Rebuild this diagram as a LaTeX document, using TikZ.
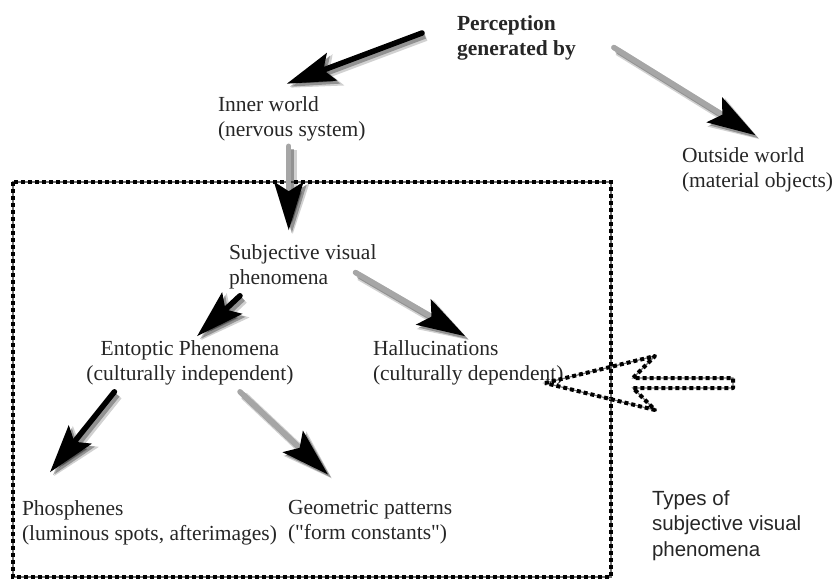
\documentclass[tikz,border=0pt]{standalone}
\usepackage{fontspec}
\setmainfont{Liberation Serif}
\setsansfont{Liberation Sans}
\usetikzlibrary{arrows.meta, calc}
\tikzset{
  lbl/.style = {
    anchor=west, align=left,
    inner sep=0pt, outer sep=0pt,
    font=\fontsize{21.5}{25}\selectfont, text=black!85
  },
  shd/.style = {
    preaction={draw=black, opacity=0.18, line width=8pt,
      transform canvas={shift={(4pt,-4pt)}},
      -{Stealth[length=50pt,width=32pt,inset=9pt]}},
    preaction={draw=black, opacity=0.3, line width=5.5pt,
      transform canvas={shift={(3pt,-3pt)}},
      -{Stealth[length=48pt,width=29pt,inset=9pt]}}
  },
  dk/.style   = {shd, -{Stealth[length=48pt,width=29pt,inset=9pt]},
                  black, line width=5.5pt, line cap=round},
  grad/.style = {shd, -{Stealth[length=48pt,width=29pt,inset=9pt,color=black]},
                  black!35, line width=5.5pt, line cap=round},
  chk/.style  = {draw=black, line width=4.5pt, dash pattern=on 4pt off 3pt,
                  preaction={draw=black!55, line width=1.2pt, dash pattern=}}
}

\begin{document}
\begin{tikzpicture}[x=1pt, y=-1pt]
  \useasboundingbox (0,0) rectangle (833,582);

  %% Frame round the subjective phenomena
  \draw[chk] (13,182) rectangle (611,577);

  %% Labels
  \node[lbl, font=\fontsize{21.5}{25}\selectfont\bfseries] (percep) at (457,37.5)
    {Perception\\generated by};
  \node[lbl] (inner) at (218,119) {Inner world\\(nervous system)};
  \node[lbl] (outside) at (682,169.5) {Outside world\\(material objects)};
  \node[lbl] (subj) at (229,266.5) {Subjective visual\\phenomena};
  \node[lbl, anchor=center, align=center] (ento) at (190,362.5)
    {Entoptic Phenomena\\(culturally independent)};
  \node[lbl] (hallu) at (373,362.5) {Hallucinations\\(culturally dependent)};
  \node[lbl] (phos) at (22,522.5) {Phosphenes\\(luminous spots, afterimages)};
  \node[lbl] (geom) at (288,522.5)
    {Geometric patterns\\(\textquotedbl form constants\textquotedbl)};
  \node[lbl, font=\fontsize{20.5}{25.5}\sffamily] (types) at (652,525.5)
    {Types of\\subjective visual\\phenomena};

  %% Arrows
  \draw[dk]   ([shift={(-35,-4.5)}]percep.west) -- ([shift={(-5,-13)}]inner.north);
  \draw[grad] ([shift={(38,10)}]percep.east) -- ([shift={(-2,-12)}]outside.north);
  \draw[grad] ([shift={(-3,5)}]inner.south) -- ([shift={(-14,-14)}]subj.north);
  \draw[dk]   ([shift={(11,7)}]subj.south west) -- ([shift={(7,-4)}]ento.north);
  \draw[grad] ([shift={(-21,6)}]subj.east) -- ([shift={(-3,-4)}]hallu.north);
  \draw[dk]   ([shift={(28,7)}]ento.south west) -- ([shift={(28,-28)}]phos.north west);
  \draw[grad] ([shift={(50,7)}]ento.south) -- ([shift={(-42,-26)}]geom.north);

  %% Hollow arrow pointing at the hallucinations
  \draw[chk, line width=4pt, line join=round]
    (545,383) -- (655,356) -- (633,378) -- (733,378) -- (733,388)
    -- (633,388) -- (655,410) -- cycle;
\end{tikzpicture}
\end{document}
